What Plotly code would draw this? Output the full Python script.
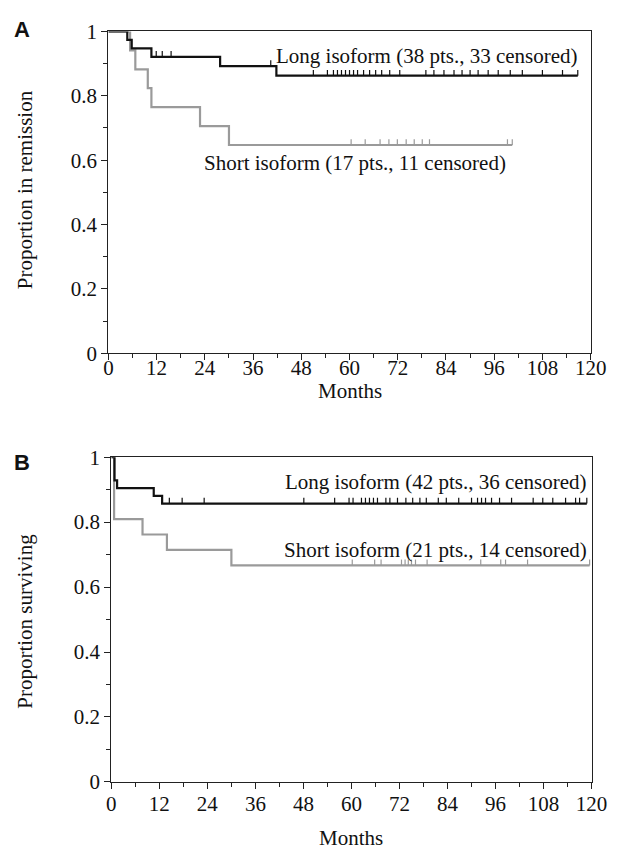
import plotly.graph_objects as go

# ---------------- data ----------------
months_ticks = [0, 12, 24, 36, 48, 60, 72, 84, 96, 108, 120]
prop_ticks = [0, 0.2, 0.4, 0.6, 0.8, 1]
prop_labels = ["0", "0.2", "0.4", "0.6", "0.8", "1"]

# Panel A: remission
a_long_n = 38
a_long_events = [4.7, 5.8, 10.7, 27.8, 41.8]
a_long_censored = [11.9, 13.4, 15.6, 40.4,
                   51, 54.5, 56, 57, 58, 59, 60, 61, 62, 63.5,
                   65, 66.5, 68, 70, 72.5, 79, 81, 83.5, 86, 88,
                   90, 92, 94.5, 97, 100, 103, 108, 113, 116.8]
a_short_n = 17
a_short_events = [5.4, 6.7, 9.8, 10.7, 22.8, 30.0]
a_short_censored = [60.4, 63.9, 67.6, 69.8, 71.9, 74.1, 76.1, 78.1, 79.9, 99.3, 100.5]

# Panel B: survival
b_long_n = 42
b_long_events = [0.8, 0.8, 0.8, 1.45, 10.6, 12.7]
b_long_censored = [14.5, 17.7, 23.2, 48.1, 55.8, 59.4, 60.4, 62.5, 63.5, 64.5,
                   65.5, 66.5, 68.6, 69.6, 71.5, 73.6, 75.3, 77.1, 78.7, 81.7,
                   83.7, 86.8, 90.0, 91.5, 92.5, 93.5, 95.0, 97.0, 100.0, 105.4,
                   107.8, 110.3, 113.5, 116.0, 117.0, 118.8]
b_short_n = 21
b_short_events = [0.7, 0.7, 0.7, 0.7, 7.8, 13.9, 30.0]
b_short_censored = [60.2, 65.8, 67.4, 72.5, 73.4, 74.2, 75.0, 76.0, 78.9,
                    92.3, 97.3, 98.5, 104.0, 119.5]

labels = {
    "a_long": "Long isoform (38 pts., 33 censored)",
    "a_short": "Short isoform (17 pts., 11 censored)",
    "b_long": "Long isoform (42 pts., 36 censored)",
    "b_short": "Short isoform (21 pts., 14 censored)",
}


def km(n, events, censored):
    times = sorted(set(events) | set(censored))
    s = 1.0
    at_risk = n
    xs, ys = [0.0], [1.0]
    cx, cy = [], []
    for t in times:
        d = events.count(t)
        c = censored.count(t)
        if d:
            xs.append(t); ys.append(s)
            s *= (1 - d / at_risk)
            xs.append(t); ys.append(s)
        if c:
            for _ in range(c):
                cx.append(t); cy.append(s)
        at_risk -= d + c
    xs.append(times[-1]); ys.append(s)
    return xs, ys, cx, cy


SERIF = "Liberation Serif"
BLACK = "#111111"
GREY = "#9a9a9a"
TICK_H = 0.018

fig = go.Figure()


def add_group(n, ev, ce, color, xa, ya):
    xs, ys, cx, cy = km(n, ev, ce)
    fig.add_trace(go.Scatter(x=xs, y=ys, mode="lines", xaxis=xa, yaxis=ya,
                             line=dict(color=color, width=2.2),
                             showlegend=False, hoverinfo="skip"))
    tx, ty = [], []
    for x, y in zip(cx, cy):
        tx += [x, x, None]
        ty += [y, y + TICK_H, None]
    fig.add_trace(go.Scatter(x=tx, y=ty, mode="lines", xaxis=xa, yaxis=ya,
                             line=dict(color=color, width=1.2),
                             showlegend=False, hoverinfo="skip"))


add_group(a_short_n, a_short_events, a_short_censored, GREY, "x", "y")
add_group(a_long_n, a_long_events, a_long_censored, BLACK, "x", "y")
add_group(b_short_n, b_short_events, b_short_censored, GREY, "x2", "y2")
add_group(b_long_n, b_long_events, b_long_censored, BLACK, "x2", "y2")

W, H = 625, 859


def px_x(p):
    return p / W


def px_y(p):
    return 1 - p / H


axis_common = dict(
    showgrid=False, zeroline=False, showline=True, linecolor="#222222",
    linewidth=1.2, mirror=True, ticks="outside", tickcolor="#222222",
    tickwidth=1.2, ticklen=6,
    tickfont=dict(family=SERIF, size=21, color="#111111"),
)

xa = dict(axis_common, range=[0, 120], tickmode="array", tickvals=months_ticks,
          ticktext=[str(v) for v in months_ticks],
          minor=dict(ticks="outside", dtick=6, tick0=0, ticklen=4,
                     tickcolor="#222222", tickwidth=1.2))
ya = dict(axis_common, range=[0, 1], tickmode="array", tickvals=prop_ticks,
          ticktext=prop_labels,
          minor=dict(ticks="outside", dtick=0.1, tick0=0, ticklen=4,
                     tickcolor="#222222", tickwidth=1.2))

fig.update_layout(
    width=W, height=H,
    margin=dict(l=0, r=0, t=0, b=0),
    font=dict(family=SERIF, size=21, color="#111111"),
    paper_bgcolor="white", plot_bgcolor="white",
    xaxis=dict(xa, domain=[px_x(107), px_x(606)], anchor="y",
               ticklabelstandoff=-10),
    yaxis=dict(ya, domain=[px_y(351), px_y(20)], anchor="x"),
    xaxis2=dict(xa, domain=[px_x(110), px_x(607)], anchor="y2",
                ticklabelstandoff=-3),
    yaxis2=dict(ya, domain=[px_y(792), px_y(458)], anchor="x2"),
)

ann = []


def add_text(text, x, y, xanchor="center", size=21, angle=0, font=SERIF,
             bold=False):
    ann.append(dict(text=("<b>%s</b>" % text) if bold else text,
                    x=px_x(x), y=px_y(y), xref="paper", yref="paper",
                    xanchor=xanchor, yanchor="middle", showarrow=False,
                    textangle=angle,
                    font=dict(family=font, size=size, color="#111111")))


add_text(labels["a_long"], 595, 45, xanchor="right")
add_text(labels["a_short"], 521, 155, xanchor="right")
add_text(labels["b_long"], 604, 484, xanchor="right")
add_text(labels["b_short"], 604, 553, xanchor="right")

add_text("Months", 357, 390)
add_text("Months", 358, 850)
add_text("Proportion in remission", 21, 183, angle=-90)
add_text("Proportion surviving", 21, 627, angle=-90)
add_text("A", 18, 18, font="Liberation Sans", size=22, bold=True)
add_text("B", 18, 463, font="Liberation Sans", size=22, bold=True)

fig.update_layout(annotations=ann)

fig.write_html("out.html")
